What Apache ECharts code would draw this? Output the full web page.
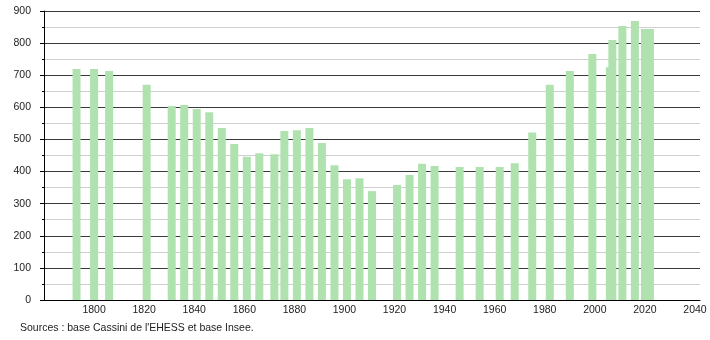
<!DOCTYPE html>
<html>
<head>
<meta charset="utf-8">
<script src="https://cdn.jsdelivr.net/npm/echarts@6/dist/echarts.min.js"></script>
<style>
html,body{margin:0;padding:0;background:#fff;}
#c{width:710px;height:340px;}
</style>
</head>
<body>
<div id="c"></div>
<script>
var years = [1793,1800,1806,1821,1831,1836,1841,1846,1851,1856,1861,1866,1872,1876,1881,1886,1891,1896,1901,1906,1911,1921,1926,1931,1936,1946,1954,1962,1968,1975,1982,1990,1999,2006,2007,2011,2016,2020,2022];
var population = [719,719,713,670,604,607,595,585,536,486,446,457,454,526,529,536,489,420,376,379,339,358,389,424,417,414,414,414,426,522,670,713,766,725,810,853,869,844,844];
var yTicks = [0,100,200,300,400,500,600,700,800,900];
var xTicks = [1800,1820,1840,1860,1880,1900,1920,1940,1960,1980,2000,2020,2040];
var sourceText = "Sources : base Cassini de l'EHESS et base Insee.";

var data = years.map(function(y,i){return [y, population[i]];});
var chart = echarts.init(document.getElementById('c'), null, {renderer:'canvas'});
var font = 'Liberation Sans, Arial, sans-serif';
chart.setOption({
  animation:false,
  backgroundColor:'#fff',
  grid:{left:44,right:10,top:11,bottom:40,containLabel:false},
  xAxis:{
    type:'value', min:1780, max:2042, interval:20,
    axisLine:{show:true,onZero:false,lineStyle:{color:'#000',width:1}},
    axisTick:{show:false},
    splitLine:{show:false},
    axisLabel:{
      color:'#222', fontSize:10.5, fontFamily:font, margin:5,
      formatter:function(v){ return xTicks.indexOf(v)>=0 ? String(v) : ''; }
    }
  },
  yAxis:{
    type:'value', min:0, max:900, interval:100,
    axisLine:{show:true,lineStyle:{color:'#000',width:1}},
    axisTick:{show:true,length:4,lineStyle:{color:'#000'}},
    minorTick:{show:true,splitNumber:2,length:2,lineStyle:{color:'#000'}},
    splitLine:{show:true,lineStyle:{color:'#3a3a3a',width:1}},
    minorSplitLine:{show:true,lineStyle:{color:'#cfcfcf',width:1}},
    axisLabel:{
      color:'#222', fontSize:10.5, fontFamily:font, margin:13,
      formatter:function(v){ return yTicks.indexOf(v)>=0 ? String(v) : ''; }
    }
  },
  graphic:[{
    type:'text', left:20, top:323,
    style:{text:sourceText, fill:'#222', font:'10.5px '+font}
  }],
  series:[{
    type:'bar', data:data, barWidth:8,
    itemStyle:{color:'#b0e2b0'},
    z:3
  }]
});
</script>
</body>
</html>
